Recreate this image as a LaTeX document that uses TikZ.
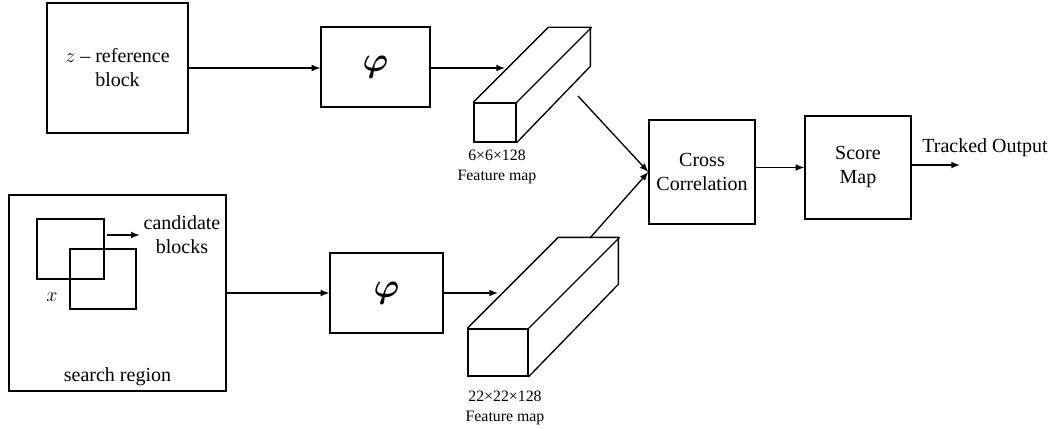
\documentclass[tikz,border=0pt]{standalone}
\usepackage{fontspec}
\usepackage{bm}
\setmainfont{Liberation Serif}

\begin{document}
\begin{tikzpicture}[x=0.6pt, y=-0.6pt, >=latex, line width=0.8pt, font=\fontsize{12}{14.4}\selectfont]
    \tikzset{blk/.style={draw, align=center, inner sep=0pt}}
    \tikzset{lbl/.style={align=center, inner sep=0pt, font=\fontsize{9.5}{12.3}\selectfont}}
    \tikzset{phi/.style={font=\fontsize{21}{24}\selectfont}}
    \useasboundingbox (0,0) rectangle (1056,429);
    % top branch
    \node[blk, minimum width=84.6pt, minimum height=78pt] (ref) at (117.5,68) {$z$ -- reference\\block};
    \node[blk, phi, minimum width=65.4pt, minimum height=48pt] (phiA) at (375.5,67) {$\bm{\varphi}$};
    \node[blk, minimum width=25.2pt, minimum height=23.4pt] (fA) at (495,122.5) {};
    \draw (fA.north west) -- ++(75,-75) -- ++(42,0) -- ++(0,39) -- (fA.south east);
    \draw (fA.north east) -- ++(75,-75);
    \node[lbl] (lblA) at (497,167) {6×6×128\\Feature map};
    \coordinate (inA) at (505,68);
    \coordinate (outA) at (578,96);
    % bottom branch
    \node[blk, minimum width=130.2pt, minimum height=117.6pt] (search) at (117.5,293) {};
    \node[blk, minimum width=40.2pt, minimum height=36pt] (sqA) at (70.5,249) {};
    \node[blk, minimum width=39.6pt, minimum height=36pt] (sqB) at (103,279) {};
    \node[align=center, inner sep=2pt] (cand) at (182,235) {candidate\\blocks};
    \node (xlbl) at (52,297) {$x$};
    \node (sr) at (117.5,377) {search region};
    \node[blk, phi, minimum width=67.8pt, minimum height=48pt] (phiB) at (386.5,293) {$\bm{\varphi}$};
    \node[blk, minimum width=36pt, minimum height=28.2pt] (fB) at (498,352.5) {};
    \draw (fB.north west) -- ++(91,-91) -- ++(60,0) -- ++(0,47) -- (fB.south east);
    \draw (fB.north east) -- ++(91,-91);
    \node[lbl] (lblB) at (505,408) {22×22×128\\Feature map};
    \coordinate (inB) at (498,293);
    \coordinate (outB) at (590,238);
    % merge and output
    \node[blk, minimum width=63.6pt, minimum height=62.4pt] (cc) at (702,172) {Cross\\Correlation};
    \node[blk, minimum width=63.6pt, minimum height=61.8pt] (score) at (858,167.5) {Score\\Map};
    \coordinate (out) at (960,165);
    \node (track) at (985,148) {Tracked Output};
    % connectors
    \draw[->] (ref.east) -- (ref.east -| phiA.west);
    \draw[->] (phiA.east |- inA) -- (inA);
    \draw[->] (outA) -- (cc.west);
    \draw[->] ([xshift=1.5pt]sqA.east |- cand.west) -- (cand.west);
    \draw[->] (search.east) -- (phiB.west);
    \draw[->] (phiB.east) -- (inB);
    \draw[->] (outB) -- (cc.west);
    \draw[->] (cc.east |- score.west) -- (score.west);
    \draw[->] (score.east |- out) -- (out);
\end{tikzpicture}
\end{document}
